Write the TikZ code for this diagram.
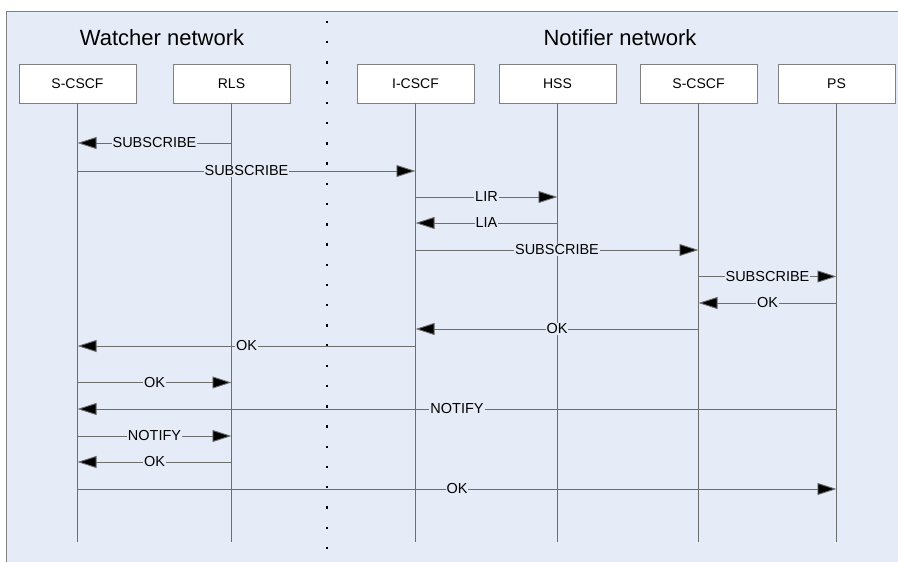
\documentclass[tikz,border=0pt]{standalone}
\usepackage{fontspec}
\setmainfont{Liberation Sans}
\usetikzlibrary{arrows.meta}
\definecolor{bgc}{RGB}{230,236,247}
\definecolor{framec}{RGB}{128,128,128}
\definecolor{linec}{RGB}{110,110,110}
\tikzset{
  actor/.style={draw=framec, fill=white, minimum width=117pt, minimum height=39pt, inner sep=0pt, font=\fontsize{14}{16}\selectfont},
  life/.style={draw=linec, line width=0.9pt},
  msg/.style={draw=linec, line width=0.9pt, -{Triangle[length=19pt,width=12pt,fill=black]}},
  lbl/.style={fill=bgc, inner sep=1pt, font=\fontsize{14.5}{16}\selectfont},
  ttl/.style={font=\fontsize{22}{26}\selectfont, inner sep=0pt}
}
\newcommand{\msgline}[4]{%
  \draw[msg] (#1.center |- 0,#3) -- node[lbl]{#4} (#2.center |- 0,#3);}
\begin{document}
\begin{tikzpicture}[x=1pt,y=-1pt]
\useasboundingbox (0,0) rectangle (898,562);
\fill[white] (0,0) rectangle (898,562);
\path[fill=bgc, draw=framec, line width=0.9pt] (6,11) rectangle (910,575);
\node[ttl] (tw) at (162,38) {Watcher network};
\node[ttl] (tn) at (620,38) {Notifier network};
\node[actor] (s1) at (77.5,83.5) {S-CSCF};
\node[actor] (rls) at (231.5,83.5) {RLS};
\node[actor] (ic) at (415.5,83.5) {I-CSCF};
\node[actor] (hss) at (557.5,83.5) {HSS};
\node[actor] (s2) at (698.5,83.5) {S-CSCF};
\node[actor] (ps) at (836.5,83.5) {PS};
\foreach \n in {s1,rls,ic,hss,s2,ps}{
  \coordinate (\n e) at (\n.center |- 0,542);
  \draw[life] (\n.south) -- (\n e);
}
\foreach \i in {0,...,26}{
  \fill[black] ({327-1.2},{22+\i*20.23-1.2}) rectangle ++(2.4,2.4);
}
\msgline{rls}{s1}{143}{SUBSCRIBE}
\msgline{s1}{ic}{171}{SUBSCRIBE}
\msgline{ic}{hss}{197}{LIR}
\msgline{hss}{ic}{223}{LIA}
\msgline{ic}{s2}{250}{SUBSCRIBE}
\msgline{s2}{ps}{276.5}{SUBSCRIBE}
\msgline{ps}{s2}{303}{OK}
\msgline{s2}{ic}{329}{OK}
\msgline{ic}{s1}{346}{OK}
\msgline{s1}{rls}{382.5}{OK}
\msgline{ps}{s1}{409}{NOTIFY}
\msgline{s1}{rls}{436}{NOTIFY}
\msgline{rls}{s1}{462}{OK}
\msgline{s1}{ps}{489}{OK}
\end{tikzpicture}
\end{document}
